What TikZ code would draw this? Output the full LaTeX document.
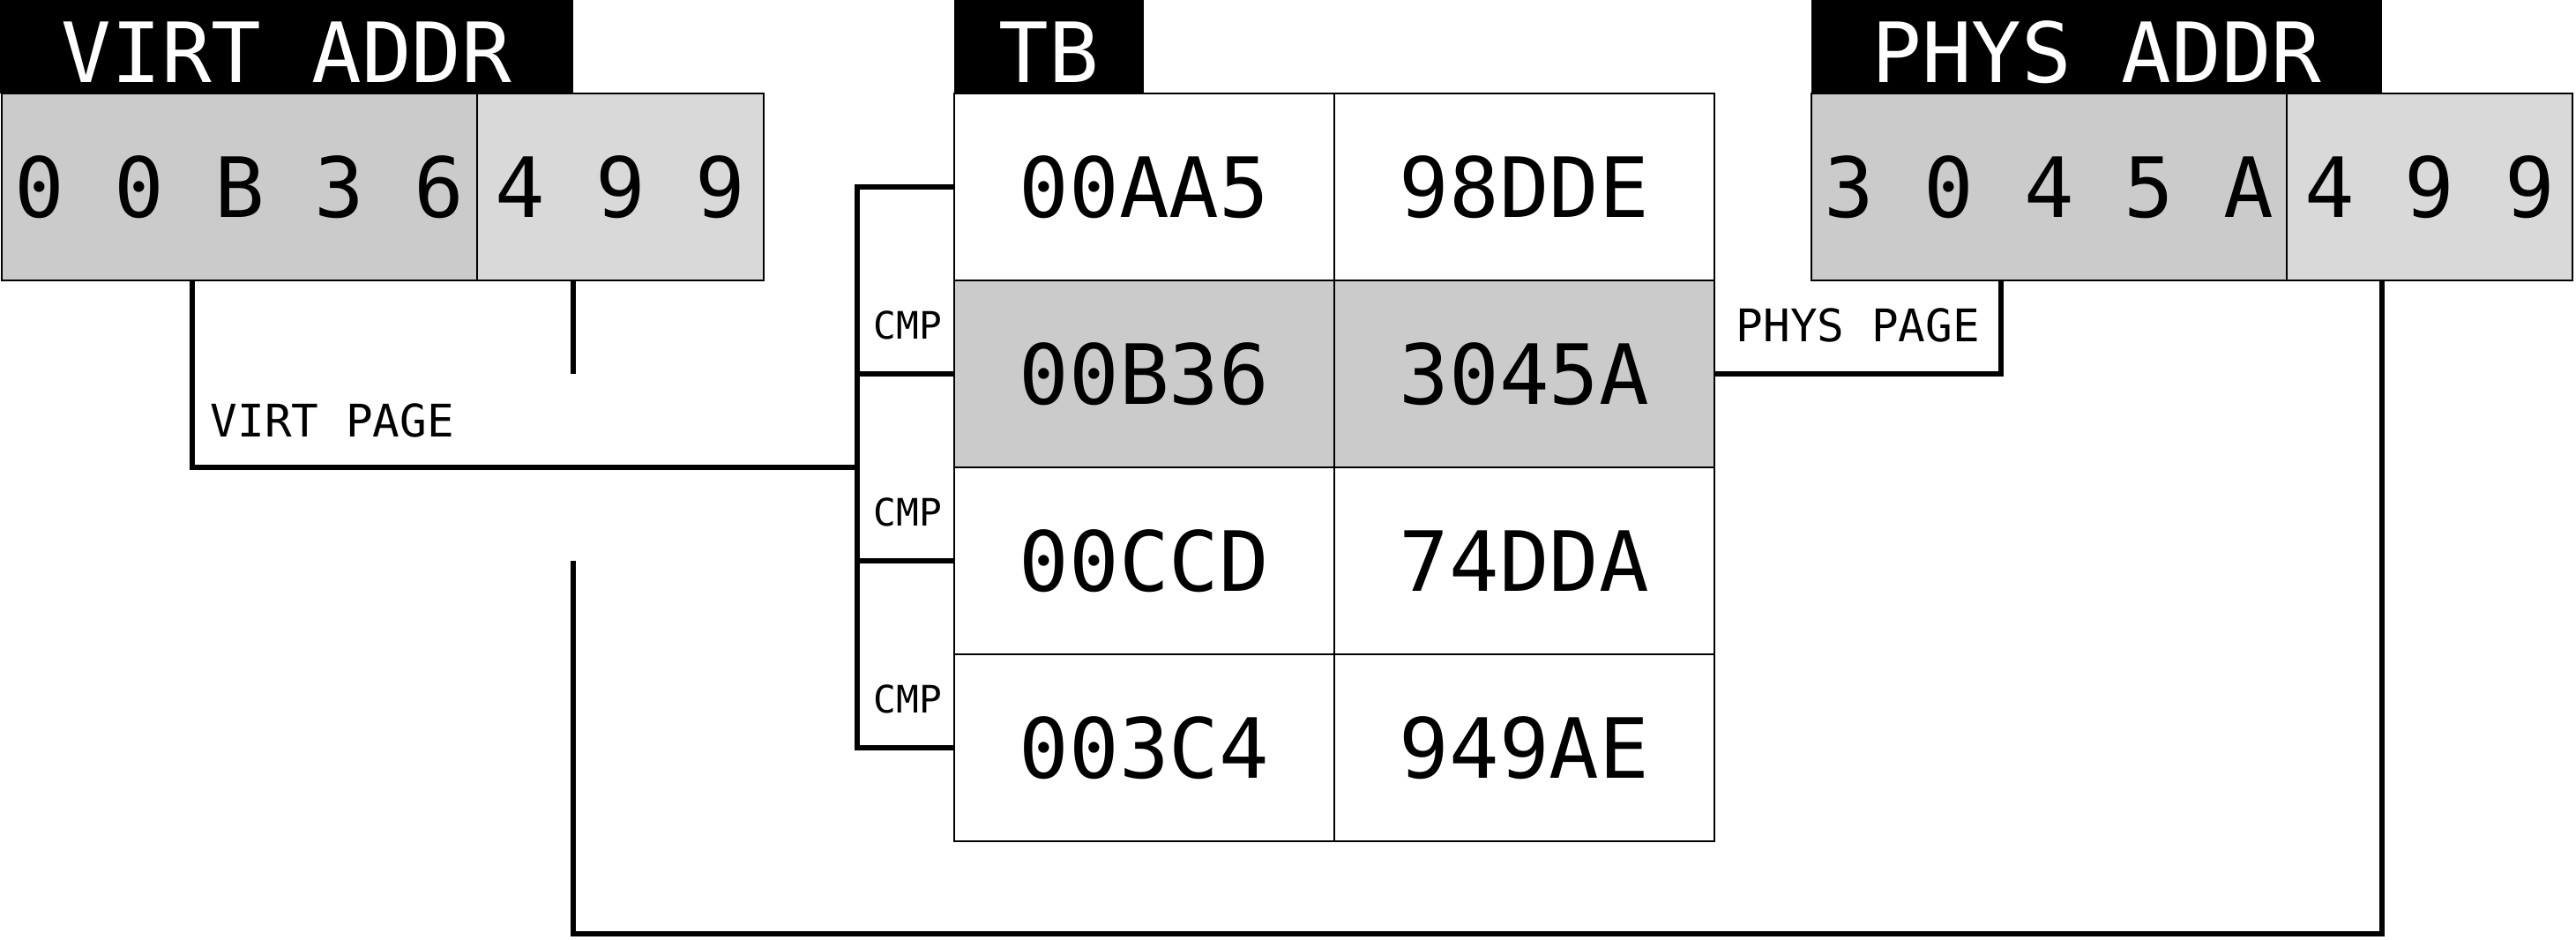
\documentclass[tikz,border=0pt]{standalone}
\usepackage{fontspec}
\usepackage{tikz}
\usetikzlibrary{positioning}
\usepackage{xcolor}

\newfontfamily\addrfont{DejaVu Sans Mono}
\newcommand\bigmono{\addrfont\fontsize{26.8}{30}\selectfont}
\newcommand\midmono{\addrfont\fontsize{14.5}{17}\selectfont}
\newcommand\smallmono{\addrfont\fontsize{12.2}{14}\selectfont}
\definecolor{pagegray}{RGB}{203,203,203}
\definecolor{offgray}{RGB}{217,217,217}

\begin{document}
\begin{tikzpicture}
[node distance = 0pt,
% The heading style is used for the black title over each block
heading/.style={fill=black, text=white, font=\bigmono, inner sep=0pt, outer sep=0pt, minimum height=1.06cm, text height=0.81cm, text depth=0pt, anchor=north west},
% The field style is used for the parts of an address
field/.style={draw, line width=0.6pt, font=\bigmono, inner sep=0pt, outer sep=0pt, minimum height=2.12cm},
% The cell style is used for the entries of the table
cell/.style={draw, line width=0.6pt, fill=white, font=\bigmono, inner sep=0pt, outer sep=0pt, minimum width=4.31cm, minimum height=2.12cm},
wire/.style={line width=1.6pt},
pagetag/.style={font=\midmono, inner sep=0pt, anchor=base west},
cmptag/.style={font=\smallmono, inner sep=0pt, anchor=base west}
]
\useasboundingbox (0,0) rectangle (29.21,10.65);

% Virtual address
\node [heading, minimum width=6.50cm] (virthead) at (0,10.65) {VIRT ADDR};
\node [field, fill=pagegray, minimum width=5.39cm, anchor=north west] (vpage) at ([xshift=0.02cm]virthead.south west) {0 0 B 3 6};
\node [field, fill=offgray, minimum width=3.25cm, right=of vpage] (voff) {4 9 9};

% Table
\node [heading, minimum width=2.15cm] (tbhead) at (10.82,10.65) {TB};
\node [cell, anchor=north west] (k1) at (tbhead.south west) {00AA5};
\node [cell, right=of k1] (v1) {98DDE};
\node [cell, fill=pagegray, below=of k1] (k2) {00B36};
\node [cell, fill=pagegray, right=of k2] (v2) {3045A};
\node [cell, below=of k2] (k3) {00CCD};
\node [cell, right=of k3] (v3) {74DDA};
\node [cell, below=of k3] (k4) {003C4};
\node [cell, right=of k4] (v4) {949AE};

% Physical address
\node [heading, minimum width=6.47cm] (physhead) at (20.54,10.65) {PHYS ADDR};
\node [field, fill=pagegray, minimum width=5.39cm, anchor=north west] (ppage) at (physhead.south west) {3 0 4 5 A};
\node [field, fill=offgray, minimum width=3.24cm, right=of ppage] (poff) {4 9 9};

% Comparators
\coordinate (bustop) at ([xshift=-1.10cm]k1.west);
\draw[wire] (k1.west) -- (bustop) -- (bustop |- k4.west) -- (k4.west);
\draw[wire] (k2.west) -- (k2.west -| bustop);
\draw[wire] (k3.west) -- (k3.west -| bustop);
\node [cmptag] (cmp1) at (9.90,6.80) {CMP};
\node [cmptag] (cmp2) at (9.90,4.68) {CMP};
\node [cmptag] (cmp3) at (9.90,2.56) {CMP};

% Page numbers
\draw[wire] ([xshift=2.16cm]vpage.south west) |- (k2.south west -| bustop);
\node [pagetag] (vplabel) at (2.38,5.69) {VIRT PAGE};
\draw[wire] (v2.east) -| ([xshift=2.15cm]ppage.south west);
\node [pagetag] (pplabel) at (19.68,6.77) {PHYS PAGE};

% Offset is passed through
\coordinate (offdrop) at (virthead.south east |- vpage.south);
\coordinate (offrise) at (physhead.south east |- poff.south);
\coordinate (floor) at (0,0.06);
\draw[wire] (offdrop) -- (offdrop |- k2.center);
\draw[wire] (offdrop |- k3.center) -- (offdrop |- floor) -| (offrise);
\end{tikzpicture}
\end{document}
